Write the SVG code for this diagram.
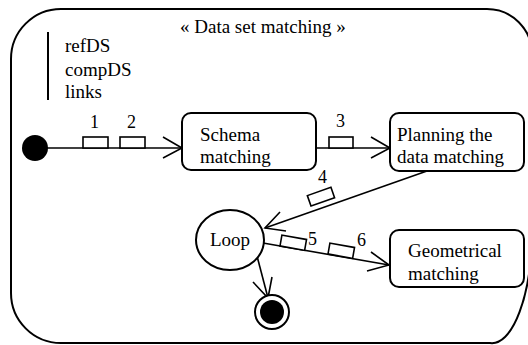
<svg xmlns="http://www.w3.org/2000/svg" width="528" height="345" viewBox="0 0 528 345">
  <style>
    text { font-family: "Liberation Serif", "Times New Roman", serif; font-size: 19px; fill: #000; }
    .lbl { font-size: 18px; }
    .frame { fill: none; stroke: #000; stroke-width: 2; }
    .box { fill: #fff; stroke: #000; stroke-width: 2; }
    .edge { fill: none; stroke: #000; stroke-width: 1.6; }
    .pin { fill: #fff; stroke: #000; stroke-width: 1.6; }
  </style>

  <!-- activity frame -->
  <path class="frame" d="M 61,9 H 487 A 45,45 0 0 1 532,54 V 230 A 40,113 0 0 1 490,343 H 61 A 50,50 0 0 1 11,293 V 59 A 50,50 0 0 1 61,9 Z"/>
  <text x="180" y="33">« Data set matching »</text>

  <!-- parameters -->
  <g id="params">
    <line x1="48" y1="32" x2="48" y2="100" stroke="#000" stroke-width="2"/>
    <text x="65" y="52">refDS</text>
    <text x="65" y="76">compDS</text>
    <text x="65" y="98">links</text>
  </g>

  <g id="connectors">
    <!-- initial -> schema -->
    <line class="edge" x1="35" y1="148" x2="182" y2="148"/>
    <polyline class="edge" points="163,137 182,148 163,158"/>
    <rect class="pin" x="83" y="137" width="25" height="11"/>
    <rect class="pin" x="120" y="137" width="25" height="11"/>
    <text class="lbl" x="90" y="128">1</text>
    <text class="lbl" x="127" y="128">2</text>

    <!-- schema -> planning -->
    <line class="edge" x1="316" y1="148" x2="390" y2="148"/>
    <polyline class="edge" points="371,137 390,148 371,158"/>
    <rect class="pin" x="329" y="137" width="24" height="11"/>
    <text class="lbl" x="336" y="127">3</text>

    <!-- planning -> loop -->
    <line class="edge" x1="427" y1="171" x2="265" y2="228"/>
    <polyline class="edge" points="280,212 265,228 286,231"/>
    <rect class="pin" x="0" y="-11" width="25" height="11" transform="translate(311,206) rotate(-19.4)"/>
    <text class="lbl" x="318" y="183">4</text>

    <!-- loop -> geometrical -->
    <line class="edge" x1="263" y1="243" x2="389" y2="265"/>
    <polyline class="edge" points="371,252 389,265 367,271"/>
    <rect class="pin" x="0" y="-11" width="25" height="11" transform="translate(280,246) rotate(10)"/>
    <rect class="pin" x="0" y="-11" width="25" height="11" transform="translate(328,254) rotate(10)"/>
    <text class="lbl" x="308" y="245">5</text>
    <text class="lbl" x="357" y="246">6</text>

    <!-- loop -> final -->
    <line class="edge" x1="257" y1="256" x2="268" y2="298"/>
    <polyline class="edge" points="253,282 268,298 272,277"/>
  </g>

  <g id="initial">
    <circle cx="35" cy="148" r="13" fill="#000"/>
  </g>

  <g id="schema">
    <rect class="box" x="182" y="113" width="134" height="57" rx="9"/>
    <text x="200" y="141">Schema</text>
    <text x="200" y="163">matching</text>
  </g>

  <g id="planning">
    <rect class="box" x="390" y="113" width="134" height="58" rx="9"/>
    <text x="397" y="141">Planning the</text>
    <text x="397" y="163">data matching</text>
  </g>

  <g id="loop">
    <ellipse class="box" cx="230" cy="240" rx="34" ry="30"/>
    <text x="230" y="246" text-anchor="middle">Loop</text>
  </g>

  <g id="geometrical">
    <rect class="box" x="390" y="230" width="134" height="57" rx="9"/>
    <text x="408" y="257">Geometrical</text>
    <text x="408" y="280">matching</text>
  </g>

  <g id="final">
    <circle cx="272" cy="312" r="17" fill="#fff" stroke="#000" stroke-width="2"/>
    <circle cx="272" cy="312" r="12" fill="#000"/>
  </g>
</svg>
